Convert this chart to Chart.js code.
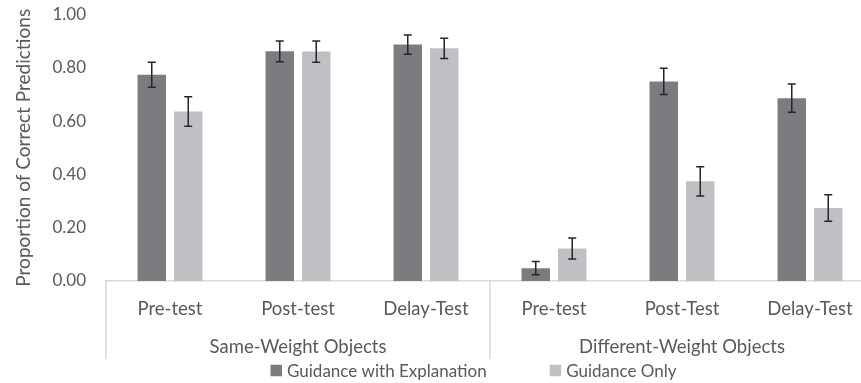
<!DOCTYPE html>
<html>
<head>
<meta charset="utf-8">
<script src="https://cdn.jsdelivr.net/npm/chart.js@4.4.1/dist/chart.umd.min.js"></script>
<style>
  html, body { margin: 0; padding: 0; background: #fff; overflow: hidden; }
  #wrap { position: relative; width: 880px; height: 383px; }
</style>
</head>
<body>
<div id="wrap"><canvas id="chart"></canvas></div>
<script>
// Test phases (inner axis row) and object conditions (outer axis row)
const testLabels = ['Pre-test', 'Post-test', 'Delay-Test', 'Pre-test', 'Post-Test', 'Delay-Test'];
const groupLabels = ['Same-Weight Objects', 'Different-Weight Objects'];

// Proportion of correct predictions and standard errors per condition
const explanationMeans  = [0.774, 0.862, 0.887, 0.048, 0.749, 0.686];
const explanationErrors = [0.047, 0.039, 0.036, 0.025, 0.049, 0.053];
const guidanceOnlyMeans  = [0.636, 0.861, 0.873, 0.122, 0.374, 0.274];
const guidanceOnlyErrors = [0.055, 0.040, 0.038, 0.039, 0.055, 0.050];

const seriesNames = ['Guidance with Explanation', 'Guidance Only'];
const yAxisTitle = 'Proportion of Correct Predictions';

const TEXT = '#595959';
const LINE = '#d9d9d9';
const FAMILY = 'Lato, "Open Sans", sans-serif';
const AXIS_FONT = { family: FAMILY, size: 18.5 };
const TICK_FONT = { family: FAMILY, size: 17 };
const TITLE_FONT = { family: FAMILY, size: 19 };
const LEGEND_SIZE = 17;

// Error bars drawn from each dataset's `errors` array via the value scale
const errorBarPlugin = {
  id: 'errorBars',
  afterDatasetsDraw(chart) {
    const { ctx, scales: { y } } = chart;
    ctx.save();
    ctx.strokeStyle = '#262626';
    ctx.lineWidth = 1.5;
    chart.data.datasets.forEach((ds, di) => {
      const meta = chart.getDatasetMeta(di);
      meta.data.forEach((bar, i) => {
        const v = ds.data[i], e = ds.errors[i];
        const top = y.getPixelForValue(v + e);
        const bot = y.getPixelForValue(v - e);
        const x = bar.x, cap = 4;
        ctx.beginPath();
        ctx.moveTo(x, top); ctx.lineTo(x, bot);
        ctx.moveTo(x - cap, top); ctx.lineTo(x + cap, top);
        ctx.moveTo(x - cap, bot); ctx.lineTo(x + cap, bot);
        ctx.stroke();
      });
    });
    ctx.restore();
  }
};

// Vertical separators between the two object conditions on the category axis
const groupDividerPlugin = {
  id: 'groupDividers',
  afterDraw(chart) {
    const { ctx, scales: { x, x2 } } = chart;
    const per = testLabels.length / groupLabels.length;
    const xs = [x.left];
    for (let g = 1; g < groupLabels.length; g++) {
      xs.push((x.getPixelForValue(g * per - 1) + x.getPixelForValue(g * per)) / 2);
    }
    xs.push(x.right);
    ctx.save();
    ctx.strokeStyle = LINE;
    ctx.lineWidth = 1.5;
    xs.forEach(px => {
      ctx.beginPath();
      ctx.moveTo(px, x.top);
      ctx.lineTo(px, x2.bottom + 1);
      ctx.stroke();
    });
    ctx.restore();
  }
};

// Legend row under the axis
const legendRowPlugin = {
  id: 'legendRow',
  afterDraw(chart) {
    const { ctx } = chart;
    const box = 11.5, textGap = 5, itemGap = 63, cy = 370.5, centerX = 473.5;
    ctx.save();
    ctx.font = `${LEGEND_SIZE}px ${FAMILY}`;
    ctx.textBaseline = 'middle';
    const items = chart.data.datasets.map(ds => ({ text: ds.label, color: ds.backgroundColor, w: ctx.measureText(ds.label).width }));
    let total = 0;
    items.forEach((it, i) => { total += box + textGap + it.w + (i < items.length - 1 ? itemGap : 0); });
    let cx = centerX - total / 2;
    items.forEach(it => {
      ctx.fillStyle = it.color;
      ctx.fillRect(cx, cy - box / 2, box, box);
      cx += box + textGap;
      ctx.fillStyle = TEXT;
      ctx.fillText(it.text, cx, cy + 1);
      cx += it.w + itemGap;
    });
    ctx.restore();
  }
};

new Chart(document.getElementById('chart'), {
  type: 'bar',
  data: {
    labels: testLabels,
    datasets: [
      { label: seriesNames[0], data: explanationMeans, errors: explanationErrors,
        backgroundColor: '#7b7c80', categoryPercentage: 0.57, barPercentage: 0.78 },
      { label: seriesNames[1], data: guidanceOnlyMeans, errors: guidanceOnlyErrors,
        backgroundColor: '#bfc0c4', categoryPercentage: 0.57, barPercentage: 0.78 }
    ]
  },
  options: {
    responsive: true,
    maintainAspectRatio: false,
    animation: false,
    layout: { padding: { top: 0, right: 6, bottom: 24.9, left: 0 } },
    plugins: { legend: { display: false }, tooltip: { enabled: false } },
    scales: {
      x: {
        type: 'category',
        position: 'bottom',
        weight: 0,
        grid: { display: false, drawTicks: false },
        border: { display: true, color: LINE, width: 1.5 },
        ticks: { font: AXIS_FONT, color: TEXT, padding: 16.9, maxRotation: 0, autoSkip: false },
        afterFit(scale) { scale.height = 39.1; }
      },
      x2: {
        type: 'category',
        labels: groupLabels,
        position: 'bottom',
        weight: 1,
        grid: { display: false, drawTicks: false },
        border: { display: false },
        ticks: { font: AXIS_FONT, color: TEXT, padding: 15.8, maxRotation: 0, autoSkip: false },
        afterFit(scale) { scale.height = 38; }
      },
      y: {
        min: 0, max: 1,
        grid: { display: false, drawTicks: false },
        border: { display: false },
        ticks: { stepSize: 0.2, font: TICK_FONT, color: TEXT, padding: 20,
                 callback: v => Number(v).toFixed(2) },
        title: { display: true, text: yAxisTitle, font: TITLE_FONT, color: TEXT, padding: { top: 12, bottom: 0 } },
        afterFit(scale) { scale.width = 106; scale.paddingTop = 14.5; }
      }
    }
  },
  plugins: [errorBarPlugin, groupDividerPlugin, legendRowPlugin]
});
</script>
</body>
</html>
